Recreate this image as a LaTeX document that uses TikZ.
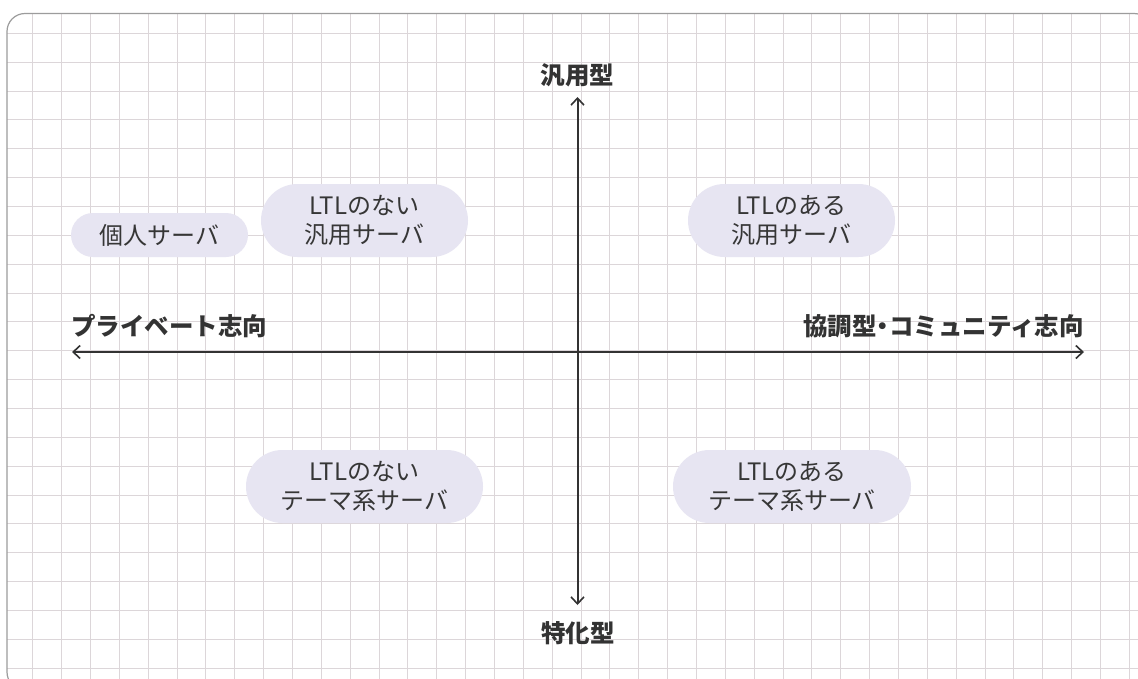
\documentclass[tikz,border=0pt]{standalone}
\usepackage{fontspec}
\setmainfont{Noto Sans CJK JP}
\usetikzlibrary{arrows.meta}
\definecolor{gridc}{HTML}{DCD6D9}
\definecolor{framec}{HTML}{9C9C9C}
\definecolor{pillc}{HTML}{E7E5F2}
\definecolor{txtc}{HTML}{363636}
\definecolor{axisc}{HTML}{333333}
\tikzset{
  pill/.style={fill=pillc, draw=none, text=txtc, align=center, inner sep=0pt,
    font=\fontsize{24}{28.5}\selectfont},
  axlabel/.style={text=axisc, inner sep=0pt, font=\fontsize{24.5}{28}\selectfont\bfseries},
  axisline/.style={draw=axisc, line width=2pt,
    arrows={Straight Barb[length=7pt,width=13pt,line width=1.6pt]-Straight Barb[length=7pt,width=13pt,line width=1.6pt]}}
}
\begin{document}
\begin{tikzpicture}[x=1pt,y=-1pt]
\useasboundingbox (0,0) rectangle (1138,678);
\fill[white] (0,0) rectangle (1138,678);
\begin{scope}
  \clip[rounded corners=18pt] (7,13.5) rectangle (1152,690);
  \foreach \i in {0,...,38} \draw[gridc, line width=1pt] ({32.7+28.86*\i},0) -- ++(0,700);
  \foreach \j in {0,...,23} \draw[gridc, line width=1pt] (0,{33.3+28.86*\j}) -- ++(1200,0);
\end{scope}
\draw[framec, line width=1.2pt, rounded corners=18pt] (7,13.5) rectangle (1152,690);

% axes
\coordinate (L) at (72,352);
\coordinate (R) at (1084,352);
\coordinate (T) at (577.5,97);
\coordinate (B) at (577.5,605);
\draw[axisline] (L) -- (R);
\draw[axisline] (B) -- (T);

% axis labels
\node[axlabel] (top) at (577.5,75) {汎用型};
\node[axlabel] (bottom) at (578,633) {特化型};
\node[axlabel, anchor=west] (left) at (71,326) {プライベート志向};
\node[axlabel, anchor=east] (right) at (1084,326) {協調型\kern-6pt・\kern-6ptコミュニティ志向};

% pills
\node[pill, minimum width=177pt, minimum height=44pt, rounded corners=22pt] (p0) at (159.5,235) {個人サーバ};
\node[pill, minimum width=207pt, minimum height=73pt, rounded corners=36.5pt] (p1) at (364.5,220.5) {LTLのない\\汎用サーバ};
\node[pill, minimum width=207pt, minimum height=73pt, rounded corners=36.5pt] (p2) at (791.5,220.5) {LTLのある\\汎用サーバ};
\node[pill, minimum width=237pt, minimum height=73pt, rounded corners=36.5pt] (p3) at (364.5,486.5) {LTLのない\\テーマ系サーバ};
\node[pill, minimum width=238pt, minimum height=73pt, rounded corners=36.5pt] (p4) at (792,486.5) {LTLのある\\テーマ系サーバ};
\end{tikzpicture}
\end{document}
